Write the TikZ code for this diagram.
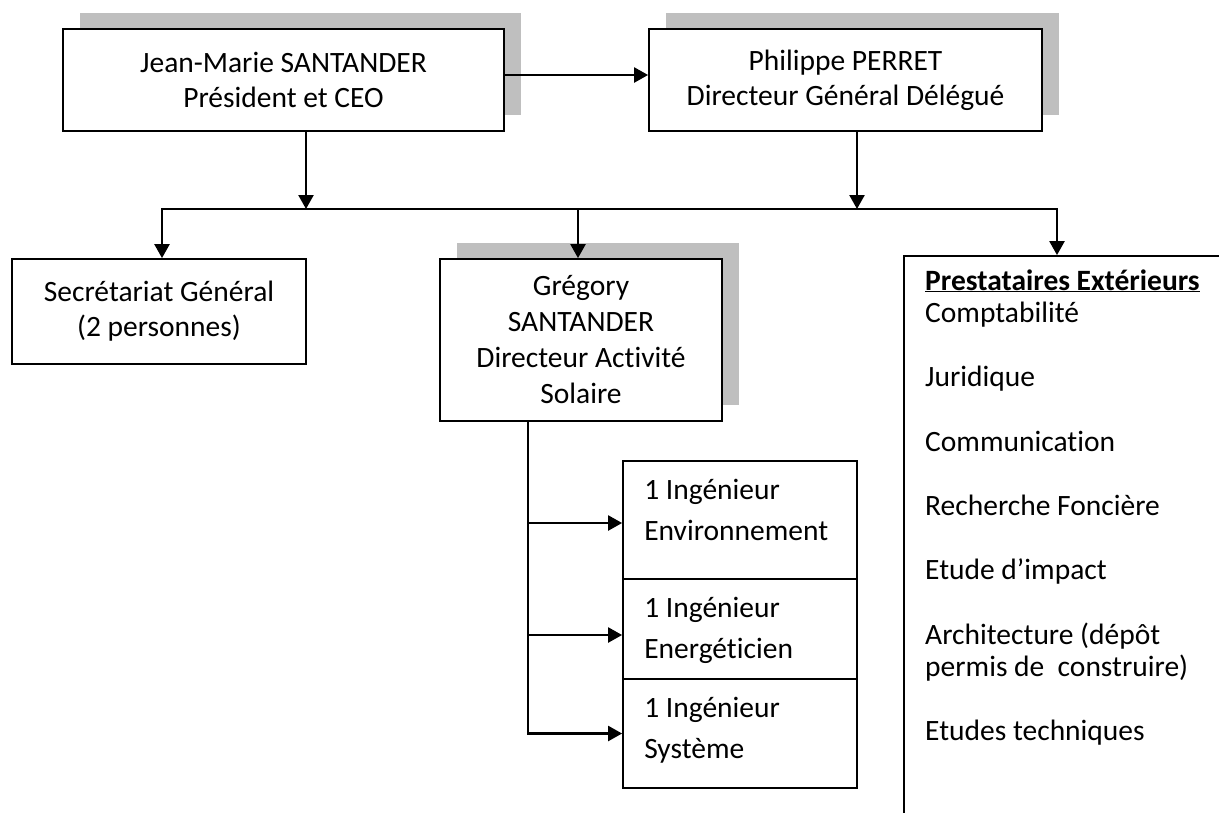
\documentclass[tikz,border=0pt]{standalone}
\usepackage{fontspec}
\setmainfont{Carlito}[Ligatures={TeX,NoCommon}]
\usetikzlibrary{arrows.meta,shadows,calc}
\definecolor{shadowgray}{RGB}{191,191,191}
\begin{document}
\begin{tikzpicture}[x=1pt,y=-1pt,
  box/.style={draw=black,line width=1.8pt,fill=white,inner sep=0pt,align=center,
              font=\fontsize{29.5}{35}\selectfont},
  shad/.style={general shadow={fill=shadowgray,shadow xshift=17pt,shadow yshift=16pt}},
  engbox/.style={draw=black,line width=1.8pt,fill=white,inner sep=0pt,minimum width=234pt},
  engtext/.style={anchor=base west,align=left,inner sep=0pt,font=\fontsize{29.5}{41}\selectfont},
  conn/.style={line width=2.4pt},
  arr/.style={conn,-{Triangle[length=14pt,width=15pt]}},
  arrtwo/.style={conn,line join=miter,{Triangle[length=14pt,width=15pt]}-{Triangle[length=14pt,width=15pt]}}]
\useasboundingbox (0,0) rectangle (1219,812);
\clip (0,0) rectangle (1219,812);
\fill[white] (0,0) rectangle (1219,812);

% boxes
\node[box,shad,minimum width=441pt,minimum height=102pt] (jm) at (283.5,80)
  {Jean-Marie SANTANDER\\Président et CEO};
\node[box,shad,minimum width=393pt,minimum height=102pt] (pp) at (845.5,80)
  {Philippe PERRET\\Directeur Général Délégué};
\node[box,minimum width=294pt,minimum height=105pt] (sg) at (159,311.5)
  {Secrétariat Général\\(2 personnes)};
\node[box,shad,minimum width=282pt,minimum height=162pt,font=\fontsize{29.5}{36}\selectfont] (gs) at (581,340)
  {Grégory\\SANTANDER\\Directeur Activité\\Solaire};
\node[engbox,minimum height=118pt] (e1) at (740,520) {};
\node[engbox,minimum height=100pt] (e2) at (740,629) {};
\node[engbox,minimum height=109pt] (e3) at (740,733.5) {};
\node[engtext] (e1t) at ([xshift=22pt,yshift=-80pt]e1.north west) {1 Ingénieur\\Environnement};
\node[engtext] (e2t) at ([xshift=22pt,yshift=-80pt]e2.north west) {1 Ingénieur\\Energéticien};
\node[engtext] (e3t) at ([xshift=22pt,yshift=-80pt]e3.north west) {1 Ingénieur\\Système};
\node[draw=black,line width=1.8pt,fill=white,inner sep=0pt,minimum width=336pt,minimum height=584pt] (pr) at (1072,548) {};
\node[anchor=base west,align=left,inner sep=0pt,font=\fontsize{29.5}{32.2}\selectfont] (prt) at (925,740.8)
  {\underline{\textbf{Prestataires Extérieurs}}\\
   Comptabilité\\[32.2pt]
   Juridique\\[32.2pt]
   Communication\\[32.2pt]
   Recherche Foncière\\[32.2pt]
   Etude d’impact\\[32.2pt]
   Architecture (dépôt\\
   permis de\ \ construire)\\[32.2pt]
   Etudes techniques};

% junction coordinates
\coordinate (j1) at (306,209);
\coordinate (j2) at (857,209);
\coordinate (hl) at (162,209);
\coordinate (hm) at (578,209);
\coordinate (hr) at (1057,209);
\coordinate (gv) at (528,732);
\coordinate (t1) at ([yshift=-3pt]e1.west);
\coordinate (t2) at ([yshift=-6pt]e2.west);

% connectors
\draw[arr] ([yshift=5pt]jm.east) -- ([yshift=5pt]pp.west);
\draw[arr] (jm.south -| j1) -- (j1);
\draw[arr] (pp.south -| j2) -- (j2);
\draw[arrtwo] (sg.north -| hl) -- (hl) -- (hr) -- (pr.north -| hr);
\draw[arr] (hm) -- (gs.north -| hm);
\draw[arr,line join=miter] (gs.south -| gv) -- (gv |- e3.west) -- (e3.west);
\draw[arr] (gv |- t1) -- (t1);
\draw[arr] (gv |- t2) -- (t2);
\end{tikzpicture}
\end{document}
